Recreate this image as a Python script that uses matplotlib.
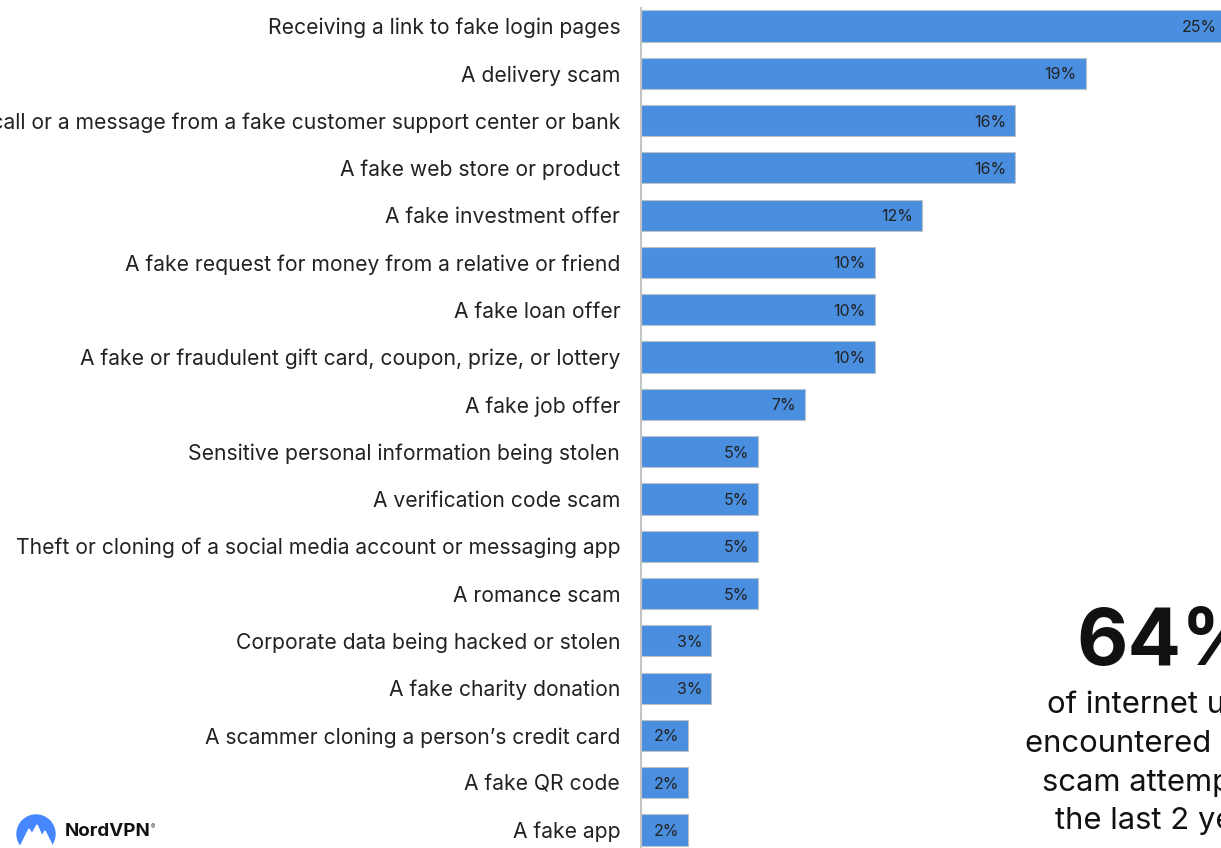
import matplotlib
matplotlib.use("Agg")
import matplotlib.pyplot as plt
from matplotlib.patches import Circle, Polygon, Rectangle

plt.rcParams['font.family'] = ['Inter', 'DejaVu Sans']

# scam types and share of respondents (%)
categories = [
    "Receiving a link to fake login pages",
    "A delivery scam",
    "A call or a message from a fake customer support center or bank",
    "A fake web store or product",
    "A fake investment offer",
    "A fake request for money from a relative or friend",
    "A fake loan offer",
    "A fake or fraudulent gift card, coupon, prize, or lottery",
    "A fake job offer",
    "Sensitive personal information being stolen",
    "A verification code scam",
    "Theft or cloning of a social media account or messaging app",
    "A romance scam",
    "Corporate data being hacked or stolen",
    "A fake charity donation",
    "A scammer cloning a person\u2019s credit card",
    "A fake QR code",
    "A fake app",
]
values = [25, 19, 16, 16, 12, 10, 10, 10, 7, 5, 5, 5, 5, 3, 3, 2, 2, 2]

headline = "64%"
headline_text = "of internet users\nencountered online\nscam attempts in\nthe last 2 years"

BAR = "#4a8fdf"
W, H = 1221, 848

fig = plt.figure(figsize=(W / 100, H / 100), dpi=100)
ax = fig.add_axes([641 / W, 0, 580 / W, 840 / H])

pos = list(range(len(categories)))
ax.barh(pos, values, height=0.66, color=BAR, edgecolor="#b9c3cc", linewidth=0.8)
ax.set_xlim(0, 580 / 23.4)
ax.set_ylim(17.38, -0.38)

ax.set_yticks(pos)
ax.set_yticklabels(categories, fontsize=15.2, color="#222222")
ax.tick_params(axis="y", length=0, pad=15)
ax.set_xticks([])
for s in ["top", "right", "bottom"]:
    ax.spines[s].set_visible(False)
ax.spines["left"].set_color("#c4c4c4")
ax.spines["left"].set_linewidth(1.5)

for i, v in enumerate(values):
    ax.annotate(f"{v}%", (v, i), xytext=(-6.5, 0), textcoords="offset points",
                ha="right", va="center_baseline", fontsize=11.5, color="#222222",
                annotation_clip=False, clip_on=False)

# big stat on the right
fig.text(1169 / W, 1 - 665 / H, headline, ha="center", va="baseline",
         fontsize=57, fontweight="bold", color="#111111")
fig.text(1167 / W, 1 - 691 / H, headline_text, ha="center", va="top",
         fontsize=22.3, color="#111111", linespacing=1.48, multialignment="center")

# NordVPN logo
logo = fig.add_axes([0, 0, 1, 1], facecolor="none")
logo.set_xlim(0, W)
logo.set_ylim(H, 0)
logo.axis("off")
dome = Circle((36, 834), 19, color="#4687ff")
logo.add_patch(dome)
dome.set_clip_path(Rectangle((0, 800), 200, 46, transform=logo.transData))
logo.add_patch(Polygon([(20, 847), (29, 829), (32, 834), (37, 825), (42, 836),
                        (45, 831), (53, 847)], closed=True, color="white"))
logo.text(65, 831, "NordVPN", fontsize=13.5, fontweight="bold", color="#111111",
          ha="left", va="center")
logo.text(151, 827, "\u00ae", fontsize=4.5, color="#111111", ha="left", va="center")

fig.savefig("out.png", dpi=100)
